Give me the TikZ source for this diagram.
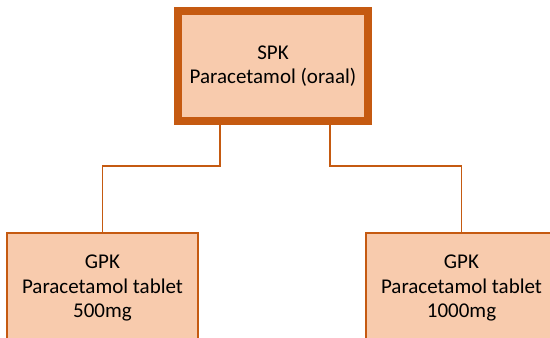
\documentclass[tikz,border=0pt]{standalone}
\usepackage{fontspec}
\setmainfont{Carlito}
\definecolor{boxfill}{HTML}{F8CBAD}
\definecolor{boxline}{HTML}{C55A11}
\tikzset{
  x=1pt, y=1pt,
  spk/.style={draw=boxline, fill=boxfill, line width=8pt, minimum width=190pt, minimum height=110pt, inner sep=0pt, align=center, font=\fontsize{21}{24.5}\selectfont},
  gpk/.style={draw=boxline, fill=boxfill, line width=1.2pt, minimum width=191pt, minimum height=110pt, inner sep=0pt, align=center, font=\fontsize{21}{24.5}\selectfont},
  conn/.style={draw=boxline, line width=1.2pt}
}
\begin{document}
\begin{tikzpicture}
\useasboundingbox (0,0) rectangle (550,338);
\clip (0,0) rectangle (550,338);
\node[spk] (top) at (273,272) {SPK\\Paracetamol (oraal)};
\node[gpk] (left) at (102.5,50) {GPK\\Paracetamol tablet\\500mg};
\node[gpk] (right) at (461.5,50) {GPK\\Paracetamol tablet\\1000mg};
\draw[conn] ([xshift=-53pt]top.south) -- ++(0,-41) -| (left.north);
\draw[conn] ([xshift=57pt]top.south) -- ++(0,-41) -| (right.north);
\end{tikzpicture}
\end{document}
